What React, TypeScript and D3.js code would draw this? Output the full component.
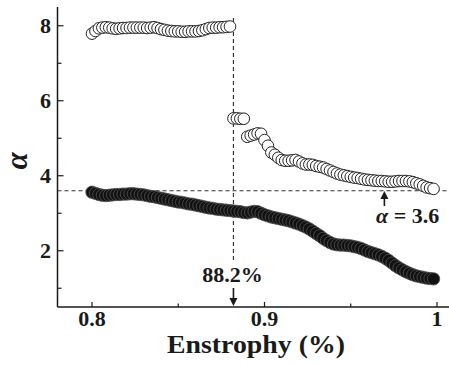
import React from "react";
import * as d3 from "d3";

const enstrophy = [
  0.800, 0.802, 0.804, 0.806, 0.808, 0.810, 0.812, 0.814, 0.816, 0.818,
  0.820, 0.822, 0.824, 0.826, 0.828, 0.830, 0.832, 0.834, 0.836, 0.838,
  0.840, 0.842, 0.844, 0.846, 0.848, 0.850, 0.852, 0.854, 0.856, 0.858,
  0.860, 0.862, 0.864, 0.866, 0.868, 0.870, 0.872, 0.874, 0.876, 0.878,
  0.880, 0.882, 0.884, 0.886, 0.888, 0.890, 0.892, 0.894, 0.896, 0.898,
  0.900, 0.902, 0.904, 0.906, 0.908, 0.910, 0.912, 0.914, 0.916, 0.918,
  0.920, 0.922, 0.924, 0.926, 0.928, 0.930, 0.932, 0.934, 0.936, 0.938,
  0.940, 0.942, 0.944, 0.946, 0.948, 0.950, 0.952, 0.954, 0.956, 0.958,
  0.960, 0.962, 0.964, 0.966, 0.968, 0.970, 0.972, 0.974, 0.976, 0.978,
  0.980, 0.982, 0.984, 0.986, 0.988, 0.990, 0.992, 0.994, 0.996, 0.998,
];

const alphaOpen = [
  7.79, 7.86, 7.93, 7.95, 7.96, 7.95, 7.93, 7.92, 7.93, 7.94,
  7.94, 7.95, 7.95, 7.95, 7.95, 7.95, 7.94, 7.95, 7.96, 7.94,
  7.91, 7.89, 7.87, 7.86, 7.85, 7.85, 7.84, 7.84, 7.85, 7.85,
  7.85, 7.86, 7.88, 7.91, 7.94, 7.95, 7.95, 7.96, 7.96, 7.97,
  7.98, 5.53, 5.53, 5.52, 5.52, 5.04, 5.07, 5.10, 5.13, 5.12,
  4.95, 4.80, 4.62, 4.56, 4.48, 4.42, 4.40, 4.40, 4.41, 4.42,
  4.38, 4.33, 4.30, 4.30, 4.29, 4.26, 4.24, 4.22, 4.18, 4.14,
  4.10, 4.06, 4.03, 4.01, 3.99, 3.97, 3.95, 3.94, 3.92, 3.90,
  3.89, 3.88, 3.87, 3.86, 3.86, 3.85, 3.84, 3.84, 3.85, 3.86,
  3.86, 3.86, 3.85, 3.83, 3.80, 3.77, 3.73, 3.69, 3.67, 3.65,
];

const alphaFilled = [
  3.56, 3.53, 3.50, 3.48, 3.47, 3.48, 3.49, 3.50, 3.50, 3.51,
  3.51, 3.52, 3.52, 3.51, 3.50, 3.49, 3.47, 3.45, 3.44, 3.42,
  3.40, 3.38, 3.36, 3.34, 3.32, 3.30, 3.29, 3.27, 3.25, 3.24,
  3.22, 3.20, 3.18, 3.16, 3.14, 3.13, 3.11, 3.10, 3.09, 3.08,
  3.07, 3.06, 3.05, 3.04, 3.02, 3.01, 3.03, 3.05, 3.04, 3.00,
  2.96, 2.93, 2.90, 2.88, 2.86, 2.84, 2.82, 2.80, 2.77, 2.74,
  2.71, 2.67, 2.63, 2.58, 2.52, 2.46, 2.40, 2.33, 2.27, 2.22,
  2.18, 2.16, 2.15, 2.15, 2.14, 2.13, 2.11, 2.09, 2.06, 2.02,
  1.98, 1.95, 1.92, 1.89, 1.85, 1.80, 1.74, 1.67, 1.60, 1.54,
  1.49, 1.44, 1.40, 1.36, 1.33, 1.31, 1.29, 1.27, 1.26, 1.25,
];

const xMajorTicks = [0.8, 0.9, 1.0];
const xTickLabels = ["0.8", "0.9", "1"];
const xMinorTicks = [0.85, 0.95];
const yMajorTicks = [2, 4, 6, 8];
const yMinorTicks = [1, 3, 5, 7];

const thresholdX = 0.882;
const thresholdAlpha = 3.6;
const arrowAlphaX = 0.9695;

const W = 449;
const H = 365;
const FONT = "'Times New Roman', 'Liberation Serif', Times, serif";

export default function App() {
  const x = d3.scaleLinear().domain([0.78, 1.0]).range([57.5, 437]);
  const y = d3.scaleLinear().domain([0.5, 8.5]).range([307, 7]);
  const x0 = x(0.78);
  const yBase = y(0.5);
  const ink = "#1a1a1a";

  return (
    <svg
      width={W}
      height={H}
      style={{ position: "absolute", left: 0, top: 0, background: "#fff" }}
      fontFamily={FONT}
    >
      {/* dashed reference lines */}
      <line
        x1={x(thresholdX)}
        x2={x(thresholdX)}
        y1={18}
        y2={260}
        stroke="#333"
        strokeWidth={1.2}
        strokeDasharray="4,3"
      />
      <line
        x1={x0}
        x2={W}
        y1={y(thresholdAlpha)}
        y2={y(thresholdAlpha)}
        stroke="#333"
        strokeWidth={1.2}
        strokeDasharray="4,3"
      />

      {/* open circles */}
      <g>
        {enstrophy.map((e, i) => (
          <circle
            key={"o" + i}
            cx={x(e)}
            cy={y(alphaOpen[i])}
            r={5.8}
            fill="#fff"
            stroke="#222"
            strokeWidth={1}
          />
        ))}
      </g>

      {/* filled circles */}
      <g>
        {enstrophy.map((e, i) => (
          <circle
            key={"f" + i}
            cx={x(e)}
            cy={y(alphaFilled[i])}
            r={6.2}
            fill="#111"
            stroke="#555"
            strokeWidth={0.8}
          />
        ))}
      </g>

      {/* axes */}
      <line x1={x0} x2={x0} y1={y(8.5)} y2={yBase} stroke={ink} strokeWidth={1.5} />
      <line x1={x0} x2={W} y1={yBase} y2={yBase} stroke={ink} strokeWidth={1.5} />

      {yMajorTicks.map((t) => (
        <g key={"ym" + t}>
          <line x1={x0} x2={x0 + 6} y1={y(t)} y2={y(t)} stroke={ink} strokeWidth={1.2} />
          <text
            x={51}
            y={y(t) + 7.5}
            textAnchor="end"
            fontSize={22}
            fontWeight="bold"
            fill={ink}
          >
            {t}
          </text>
        </g>
      ))}
      {yMinorTicks.map((t) => (
        <line key={"yn" + t} x1={x0} x2={x0 + 4} y1={y(t)} y2={y(t)} stroke={ink} strokeWidth={1.2} />
      ))}

      {xMajorTicks.map((t, i) => (
        <g key={"xm" + t}>
          <line x1={x(t)} x2={x(t)} y1={yBase} y2={yBase - 5} stroke={ink} strokeWidth={1.2} />
          <text
            x={x(t)}
            y={326}
            textAnchor="middle"
            fontSize={22}
            fontWeight="bold"
            fill={ink}
          >
            {xTickLabels[i]}
          </text>
        </g>
      ))}
      {xMinorTicks.map((t) => (
        <line key={"xn" + t} x1={x(t)} x2={x(t)} y1={yBase} y2={yBase - 3.5} stroke={ink} strokeWidth={1.2} />
      ))}

      {/* axis titles */}
      <text
        x={256}
        y={353}
        textAnchor="middle"
        fontSize={25}
        fontWeight="bold"
        fill={ink}
        textLength={178}
        lengthAdjust="spacingAndGlyphs"
      >
        Enstrophy (%)
      </text>
      <text
        transform="translate(27,161) rotate(-90)"
        textAnchor="middle"
        fontSize={31}
        fontWeight="bold"
        fontStyle="italic"
        fill={ink}
      >
        α
      </text>

      {/* annotation 88.2% */}
      <text
        x={x(thresholdX) - 1}
        y={282}
        textAnchor="middle"
        fontSize={22}
        fontWeight="bold"
        fill={ink}
      >
        88.2%
      </text>
      <line x1={x(thresholdX)} x2={x(thresholdX)} y1={288} y2={300} stroke={ink} strokeWidth={1.6} />
      <path
        d={`M${x(thresholdX) - 4},${298} L${x(thresholdX) + 4},${298} L${x(thresholdX)},${306} Z`}
        fill={ink}
      />

      {/* annotation alpha = 3.6 */}
      <line x1={x(arrowAlphaX)} x2={x(arrowAlphaX)} y1={206} y2={197} stroke={ink} strokeWidth={1.6} />
      <path
        d={`M${x(arrowAlphaX) - 4},${199} L${x(arrowAlphaX) + 4},${199} L${x(arrowAlphaX)},${191} Z`}
        fill={ink}
      />
      <text x={376} y={223} fontSize={22} fontWeight="bold" fill={ink}>
        <tspan fontStyle="italic">α</tspan>
        <tspan> = 3.6</tspan>
      </text>
    </svg>
  );
}
